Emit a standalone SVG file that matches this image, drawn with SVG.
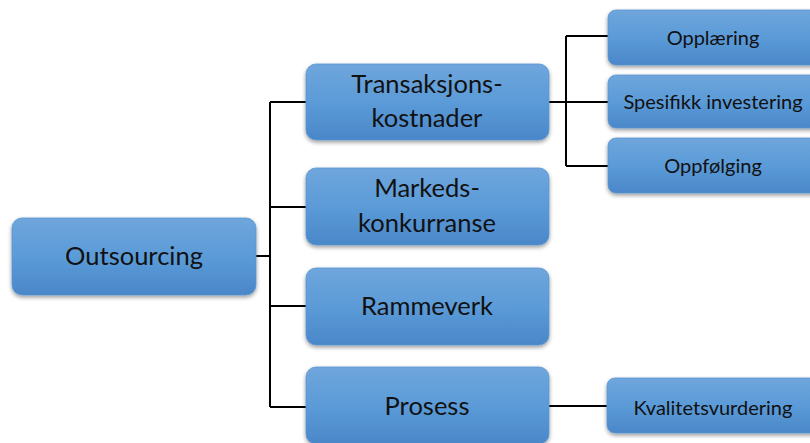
<svg xmlns="http://www.w3.org/2000/svg" width="810" height="443" viewBox="0 0 810 443">
  <defs>
    <linearGradient id="boxFill" x1="0" y1="0" x2="0" y2="1">
      <stop offset="0" stop-color="#6fa6dc"/>
      <stop offset="0.5" stop-color="#5b9bd8"/>
      <stop offset="1" stop-color="#4a87c9"/>
    </linearGradient>
    <filter id="shadow" x="-10%" y="-10%" width="120%" height="130%">
      <feGaussianBlur in="SourceAlpha" stdDeviation="2"/>
      <feOffset dx="0" dy="2" result="b"/>
      <feComponentTransfer><feFuncA type="linear" slope="0.4"/></feComponentTransfer>
      <feMerge><feMergeNode/><feMergeNode in="SourceGraphic"/></feMerge>
    </filter>
  </defs>
  <style>
    .box { fill: url(#boxFill); stroke: #5a95d0; stroke-width: 0.8; filter: url(#shadow); }
    .lbl { font-family: Lato, "Liberation Sans", sans-serif; fill: #111; text-anchor: middle; }
    .big { font-size: 25.5px; }
    .small { font-size: 20px; }
    .conn { stroke: #000; stroke-width: 2; fill: none; }
  </style>
  <rect width="810" height="443" fill="#fff"/>

  <!-- connectors -->
  <g id="connectors">
    <path class="conn" d="M256 256 H270 M270 102 V407 M270 102 H306 M270 207 H306 M270 306 H306 M270 407 H306"/>
    <path class="conn" d="M549 102 H608 M566 36 V166 M566 36 H608 M566 166 H608"/>
    <path class="conn" d="M549 406 H607"/>
  </g>

  <g id="outsourcing">
    <rect class="box" x="12" y="218" width="244" height="77" rx="10"/>
    <text class="lbl big" x="134" y="265">Outsourcing</text>
  </g>

  <g id="transaksjonskostnader">
    <rect class="box" x="306" y="64" width="243" height="76" rx="10"/>
    <text class="lbl big" x="427" y="93">Transaksjons-</text>
    <text class="lbl big" x="427" y="127">kostnader</text>
  </g>

  <g id="markedskonkurranse">
    <rect class="box" x="306" y="168" width="243" height="77" rx="10"/>
    <text class="lbl big" x="427" y="197">Markeds-</text>
    <text class="lbl big" x="427" y="232">konkurranse</text>
  </g>

  <g id="rammeverk">
    <rect class="box" x="306" y="268" width="243" height="77" rx="10"/>
    <text class="lbl big" x="427" y="315">Rammeverk</text>
  </g>

  <g id="prosess">
    <rect class="box" x="306" y="367" width="243" height="77" rx="10"/>
    <text class="lbl big" x="427" y="415">Prosess</text>
  </g>

  <g id="opplaering">
    <rect class="box" x="608" y="10" width="215" height="55" rx="8"/>
    <text class="lbl small" x="713" y="45">Opplæring</text>
  </g>

  <g id="spesifikk-investering">
    <rect class="box" x="608" y="75" width="215" height="53" rx="8"/>
    <text class="lbl small" x="713" y="109">Spesifikk investering</text>
  </g>

  <g id="oppfolging">
    <rect class="box" x="608" y="138" width="215" height="55" rx="8"/>
    <text class="lbl small" x="713" y="173">Oppfølging</text>
  </g>

  <g id="kvalitetsvurdering">
    <rect class="box" x="607" y="378" width="215" height="55" rx="8"/>
    <text class="lbl small" x="713" y="415">Kvalitetsvurdering</text>
  </g>
</svg>
